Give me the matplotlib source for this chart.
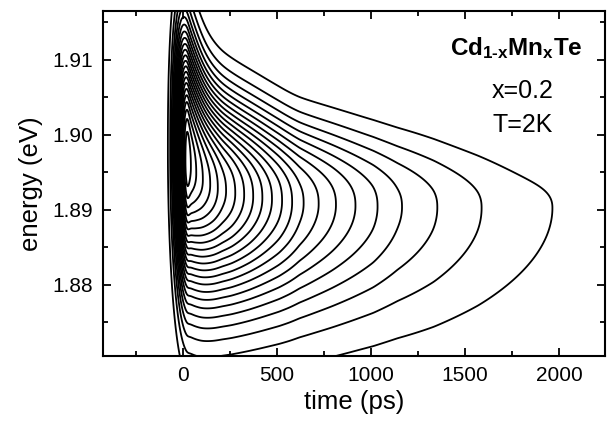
import numpy as np
import matplotlib
matplotlib.use("Agg")
import matplotlib.pyplot as plt
from matplotlib.ticker import MultipleLocator, FormatStrFormatter

plt.rcParams['font.family'] = ['Liberation Sans', 'DejaVu Sans']
plt.rcParams['mathtext.fontset'] = 'custom'
plt.rcParams['mathtext.rm'] = 'Liberation Sans:bold'
plt.rcParams['mathtext.bf'] = 'Liberation Sans:bold'

# ---- values ----
# PL amplitude (in contour-level units) vs time (ps)
amp_time = [-160, -100, -80, -68, -55, -38, -25, -13, 1, 12, 22, 41, 77, 121, 166, 210,
            260, 307, 355, 408, 458, 512, 565, 620, 705, 795, 896, 1013, 1141,
            1334, 1570, 1965, 2400]
amp_level = [0.01, 0.3, 1.0, 2.0, 4.0, 8.0, 12.0, 16.0, 20.0, 22.0, 23.2, 22.0, 20.8, 19.6,
             18.5, 17.4, 16.4, 15.4, 14.4, 13.3, 12.3, 11.3, 10.3, 9.3, 8.2, 7.2, 6.2,
             5.2, 4.15, 3.1, 2.07, 1.0, 0.5]
# spectral peak energy and widths (eV) vs time (ps)
spec_time = [-200, -50, 0, 30, 60, 110, 200, 300, 590, 1000, 1260, 1620, 1850, 2400]
peak_energy = [1.8980, 1.8980, 1.8975, 1.8960, 1.8948, 1.8936, 1.8926, 1.8920, 1.8909,
               1.8904, 1.8903, 1.8902, 1.8902, 1.8902]
width_high = [0.0136, 0.0136, 0.0134, 0.0123, 0.0110, 0.0098, 0.0092, 0.0089, 0.0078,
              0.0072, 0.0068, 0.0059, 0.0050, 0.0050]
width_low = [0.0115, 0.0115, 0.0118, 0.0116, 0.0112, 0.0109, 0.0106, 0.0104, 0.0102,
             0.0102, 0.0105, 0.0108, 0.0110, 0.0110]
high_side_exponent = 2.5
contour_levels = list(range(1, 24))

x_ticks = [0, 500, 1000, 1500, 2000]
y_ticks = [1.88, 1.89, 1.90, 1.91]

# ---- build intensity map ----
t = np.linspace(-450, 2300, 1101)          # 2.5 ps steps
E = np.linspace(1.865, 1.920, 500)
T, EE = np.meshgrid(t, E)


def smooth(y, sigma_ps):
    dt = t[1] - t[0]
    n = int(4 * sigma_ps / dt)
    k = np.exp(-0.5 * (np.arange(-n, n + 1) * dt / sigma_ps) ** 2)
    k /= k.sum()
    yp = np.concatenate([np.full(n, y[0]), y, np.full(n, y[-1])])
    return np.convolve(yp, k, mode='valid')


A = np.exp(smooth(np.interp(t, amp_time, np.log(amp_level)), 6))
E0 = smooth(np.interp(t, spec_time, peak_energy), 45)
sh = smooth(np.interp(t, spec_time, width_high), 60)
sl = smooth(np.interp(t, spec_time, width_low), 60)
d = EE - E0[None, :]
expo = np.where(d > 0,
                0.5 * np.abs(d / sh[None, :]) ** high_side_exponent,
                0.5 * (d / sl[None, :]) ** 2)
I = A[None, :] * np.exp(-expo)

fig = plt.figure(figsize=(6.08, 4.25), dpi=100)
ax = fig.add_axes([103 / 608, 1 - 356 / 425, 502 / 608, 345 / 425])
ax.contour(T, EE, I, levels=contour_levels, colors='k', linewidths=1.3)

ax.set_xlim(-425, 2245)
ax.set_ylim(1.8705, 1.9165)
ax.set_xticks(x_ticks)
ax.set_yticks(y_ticks)
ax.xaxis.set_minor_locator(MultipleLocator(250))
ax.yaxis.set_minor_locator(MultipleLocator(0.005))
ax.yaxis.set_major_formatter(FormatStrFormatter('%.2f'))
ax.tick_params(which='both', direction='in', top=True, right=True, width=1.3,
               labelsize=15, pad=7)
ax.tick_params(which='major', length=6)
ax.tick_params(which='minor', length=3.5)
for s in ax.spines.values():
    s.set_linewidth(1.5)

ax.set_xlabel('time (ps)', fontsize=18.5, labelpad=4)
ax.set_ylabel('energy (eV)', fontsize=18.5, labelpad=7)

ax.text(0.823, 0.893, r'$\mathbf{Cd_{1\text{-}x}Mn_{x}Te}$', transform=ax.transAxes,
        ha='center', va='center', fontsize=17.5)
ax.text(0.835, 0.767, 'x=0.2', transform=ax.transAxes, ha='center', va='center',
        fontsize=18)
ax.text(0.837, 0.670, 'T=2K', transform=ax.transAxes, ha='center', va='center',
        fontsize=18)

fig.savefig('out.png', dpi=100)
